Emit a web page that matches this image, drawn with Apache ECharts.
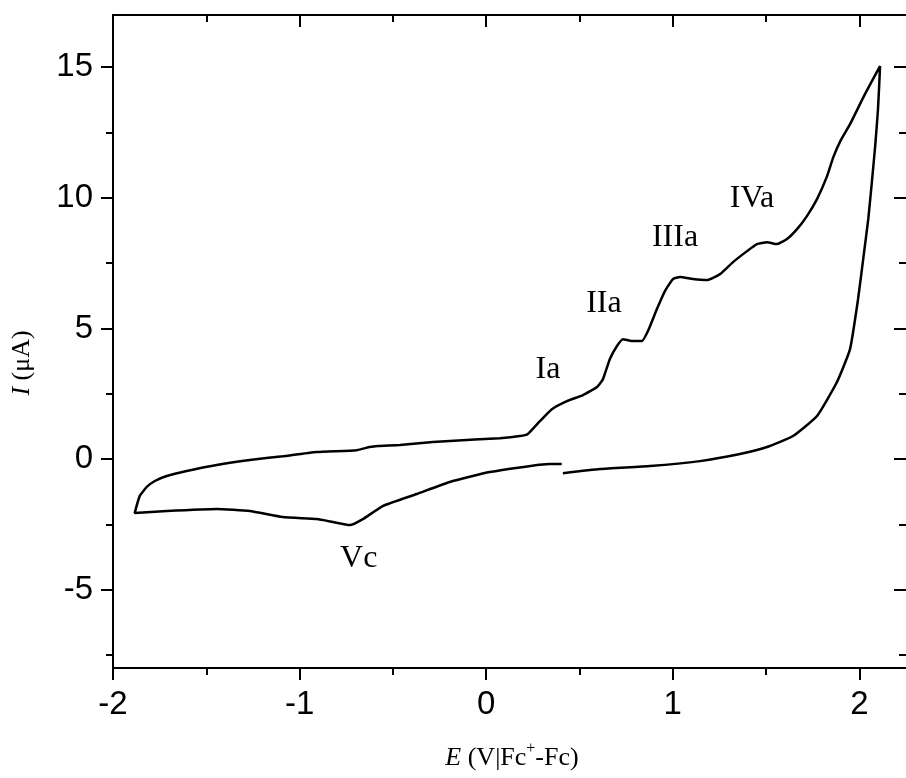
<!DOCTYPE html>
<html>
<head>
<meta charset="utf-8">
<script src="https://cdn.jsdelivr.net/npm/echarts@6/dist/echarts.min.js"></script>
<style>
    html, body { margin: 0; padding: 0; background: #fff; }
    #grafica { width: 906px; height: 778px; }
</style>
</head>
<body>
<div id="grafica"></div>
<script>
// Voltammogram traced point by point: E (V) and I (uA), in scan order
let potencial = [
    0.405, 0.341, 0.019, -0.195, -0.372, -0.554, -0.661, -0.731, -0.822, -0.908,
    -1.090, -1.267, -1.444, -1.712, -1.884,
    -1.857, -1.819, -1.776, -1.712, -1.605, -1.444, -1.267, -1.090, -0.908, -0.693,
    -0.624, -0.581, -0.463, -0.286, -0.195, 0.073, 0.180, 0.223, 0.288, 0.352,
    0.433, 0.519, 0.594, 0.626, 0.663, 0.700, 0.733, 0.781, 0.835, 0.867,
    0.915, 0.958, 1.001, 1.039, 1.108, 1.183, 1.253, 1.323, 1.398, 1.451,
    1.505, 1.559, 1.612, 1.666, 1.719, 1.773, 1.827, 1.860, 1.900, 1.950, 2.030, 2.111,
    2.100, 2.085, 2.067, 2.048, 2.025, 1.993, 1.950, 1.880, 1.773, 1.644, 1.505,
    1.360, 1.146, 0.878, 0.610, 0.411
];
let corriente = [
    -0.19, -0.19, -0.50, -0.88, -1.34, -1.80, -2.30, -2.53, -2.41, -2.30,
    -2.22, -1.99, -1.91, -1.99, -2.07,
    -1.42, -1.07, -0.84, -0.65, -0.46, -0.23, -0.04, 0.11, 0.27, 0.34,
    0.46, 0.50, 0.54, 0.65, 0.69, 0.80, 0.88, 0.96, 1.45, 1.91,
    2.22, 2.45, 2.76, 3.06, 3.83, 4.32, 4.59, 4.52, 4.52, 4.90,
    5.74, 6.43, 6.89, 6.97, 6.89, 6.85, 7.08, 7.54, 7.96, 8.23,
    8.30, 8.23, 8.42, 8.80, 9.30, 9.95, 10.83, 11.55, 12.20, 12.82, 13.97, 15.04,
    13.40, 12.00, 10.60, 9.20, 7.90, 6.12, 4.21, 2.95, 1.65, 0.88, 0.46,
    0.19, -0.08, -0.27, -0.38, -0.54
];

// Peak labels
let picos = ['Ia', 'IIa', 'IIIa', 'IVa', 'Vc'];
let picosX = [0.331, 0.631, 1.012, 1.425, -0.683];
let picosY = [3.44, 5.97, 8.46, 9.99, -3.83];

// Ticks
let ticksX = [-2, -1, 0, 1, 2];
let ticksXMenor = [-1.5, -0.5, 0.5, 1.5];
let ticksY = [-5, 0, 5, 10, 15];
let ticksYMenor = [-7.5, -2.5, 2.5, 7.5, 12.5];

let xMin = -2, xMax = 2.25;
let yMin = -8, yMax = 17;

let negro = '#000';
let fuenteNum = '"Liberation Sans", Arial, sans-serif';
let fuenteSerif = '"Liberation Serif", "Times New Roman", serif';

function ejeX(posicion, valores, largo, dentro, etiquetas, linea) {
    return {
        type: 'value', position: posicion, min: xMin, max: xMax,
        splitLine: { show: false },
        axisLine: { show: linea, onZero: false, lineStyle: { color: negro, width: 2 } },
        axisTick: { show: true, inside: dentro, length: largo, customValues: valores,
            lineStyle: { color: negro, width: 2 } },
        axisLabel: { show: etiquetas, customValues: valores, margin: 20,
            fontSize: 33, fontFamily: fuenteNum, color: negro }
    };
}

function ejeY(posicion, valores, largo, dentro, etiquetas, linea) {
    return {
        type: 'value', position: posicion, min: yMin, max: yMax,
        splitLine: { show: false },
        axisLine: { show: linea, onZero: false, lineStyle: { color: negro, width: 2 } },
        axisTick: { show: true, inside: dentro, length: largo, customValues: valores,
            lineStyle: { color: negro, width: 2 } },
        axisLabel: { show: etiquetas, customValues: valores, margin: 20,
            fontSize: 33, fontFamily: fuenteNum, color: negro }
    };
}

let curva = potencial.map((e, i) => [e, corriente[i]]);
let etiquetasPicos = picos.map((p, i) => ({ name: p, value: [picosX[i], picosY[i]] }));

let chartDom = document.getElementById('grafica');
let myChart = echarts.init(chartDom, null, { renderer: 'canvas' });
let option = {
    animation: false,
    backgroundColor: '#fff',
    grid: { left: 113, right: 0, top: 15, bottom: 110, containLabel: false },
    xAxis: [
        ejeX('bottom', ticksX, 12, false, true, true),
        ejeX('bottom', ticksXMenor, 7, false, false, false),
        ejeX('top', ticksX, 12, true, false, true),
        ejeX('top', ticksXMenor, 7, true, false, false)
    ],
    yAxis: [
        ejeY('left', ticksY, 12, false, true, true),
        ejeY('left', ticksYMenor, 7, false, false, false),
        ejeY('right', ticksY, 12, true, false, false),
        ejeY('right', ticksYMenor, 7, true, false, false)
    ],
    series: [
        {
            name: 'CV',
            type: 'line',
            xAxisIndex: 0,
            yAxisIndex: 0,
            showSymbol: false,
            smooth: 0.15,
            lineStyle: { color: negro, width: 2.5 },
            data: curva
        },
        {
            name: 'picos',
            type: 'scatter',
            xAxisIndex: 0,
            yAxisIndex: 0,
            symbolSize: 0,
            label: {
                show: true, position: 'inside', formatter: '{b}',
                fontSize: 32, fontFamily: fuenteSerif, color: negro, opacity: 1
            },
            data: etiquetasPicos
        }
    ],
    graphic: [
        {
            type: 'text', x: 22, y: 363, rotation: Math.PI / 2,
            style: {
                text: '{i|I} (μA)',
                font: '26px ' + fuenteSerif,
                fill: negro,
                textAlign: 'center', align: 'center',
                textVerticalAlign: 'middle', verticalAlign: 'middle',
                rich: { i: { fontStyle: 'italic', fontSize: 26, fontFamily: fuenteSerif } }
            }
        },
        {
            type: 'text', x: 512, y: 758,
            style: {
                text: '{i|E} (V|Fc{sup|+}-Fc)',
                font: '26px ' + fuenteSerif,
                fill: negro,
                textAlign: 'center', align: 'center',
                textVerticalAlign: 'middle', verticalAlign: 'middle',
                rich: {
                    i: { fontStyle: 'italic', fontSize: 26, fontFamily: fuenteSerif },
                    sup: { fontSize: 16, fontFamily: fuenteSerif, padding: [0, 0, 18, 0] }
                }
            }
        }
    ]
};
option && myChart.setOption(option);
</script>
</body>
</html>
